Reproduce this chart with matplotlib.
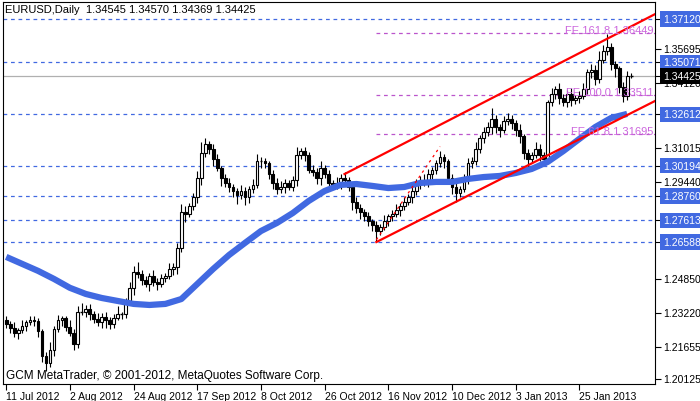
import matplotlib
matplotlib.use("Agg")
import matplotlib.pyplot as plt
import matplotlib.transforms as mtransforms

plt.rcParams['font.family'] = ['Liberation Sans', 'DejaVu Sans']

closes = [1.2270,1.2255,1.2230,1.2245,1.2262,1.2280,1.2290,1.2285,1.2240,1.2120,
          1.2090,1.2150,1.2250,1.2290,1.2300,1.2260,1.2230,1.2180,1.2330,1.2330,
          1.2345,1.2320,1.2295,1.2280,1.2305,1.2290,1.2270,1.2300,1.2320,1.2320,
          1.2380,1.2440,1.2520,1.2510,1.2480,1.2460,1.2500,1.2470,1.2460,1.2490,
          1.2500,1.2530,1.2540,1.2630,1.2800,1.2790,1.2830,1.2870,1.2960,1.3080,
          1.3120,1.3100,1.3050,1.3010,1.2960,1.2940,1.2920,1.2900,1.2880,1.2900,
          1.2870,1.2910,1.2930,1.3040,1.3040,1.3030,1.2980,1.2940,1.2910,1.2920,
          1.2940,1.2920,1.2950,1.3070,1.3090,1.3070,1.3000,1.2990,1.2960,1.3010,
          1.2980,1.2940,1.2930,1.2940,1.2960,1.2950,1.2920,1.2850,1.2820,1.2800,
          1.2780,1.2760,1.2740,1.2710,1.2730,1.2760,1.2780,1.2790,1.2810,1.2830,
          1.2850,1.2870,1.2900,1.2940,1.2950,1.2940,1.2980,1.3000,1.3030,1.3060,
          1.3040,1.2960,1.2920,1.2890,1.2910,1.2960,1.3030,1.3040,1.3100,1.3150,
          1.3180,1.3200,1.3240,1.3200,1.3190,1.3230,1.3240,1.3220,1.3190,1.3160,
          1.3080,1.3050,1.3070,1.3100,1.3070,1.3050,1.3320,1.3360,1.3380,1.3340,
          1.3320,1.3360,1.3330,1.3340,1.3350,1.3380,1.3460,1.3470,1.3430,1.3520,
          1.3560,1.3580,1.3500,1.3480,1.3390,1.3350,1.3445,1.34425]
first_open = 1.2290
# wick sizes in pips (0.0001)
up_wick = [20,15,25,10,30,12,18,22,15,10, 20,35,15,25,10,12,30,18,25,40,
           15,20,12,30,18,25,15,20,35,10, 15,30,25,45,15,20,12,25,18,20,
           15,30,20,25,40,30,15,20,35,50, 30,15,20,25,10,18,22,15,12,30,
           20,15,25,35,20,15,12,18,20,25, 15,10,20,40,15,20,12,25,18,30,
           15,20,10,25,20,30,15,12,20,18, 15,22,10,20,15,25,12,20,30,15,
           20,18,25,15,20,30,25,12,18,30, 15,10,20,25,15,18,25,20,30,15,
           20,25,50,20,15,25,30,20,15,25, 10,20,15,30,20,15,10,25,15,30,
           20,15,25,12,20,30,15,30,25,40, 30,60,20,15,10,25,20,10]
dn_wick = [15,25,20,30,15,25,12,20,30,25, 40,20,30,15,25,20,15,30,20,15,
           25,30,20,15,25,35,20,15,10,25, 20,15,30,20,25,15,30,20,25,15,
           20,15,25,30,20,35,15,20,25,30, 20,25,30,15,35,20,25,30,40,20,
           35,25,20,15,30,20,25,30,25,20, 30,15,20,25,20,30,15,20,25,30,
           20,25,15,20,30,25,20,40,25,30, 20,25,30,45,20,15,25,20,15,30,
           20,15,25,20,30,15,20,25,20,15, 30,25,35,40,20,15,25,20,15,20,
           25,20,30,25,35,15,20,25,30,35, 30,40,20,15,30,25,15,20,25,30,
           20,25,30,20,25,15,20,25,30,20, 15,20,30,40,25,30,20,10]

ma_index = list(range(0, 157, 4))
ma_values = [1.2589,1.2556,1.2523,1.2485,1.2443,1.2414,1.2395,1.2381,1.2367,1.2362,
             1.2367,1.2390,1.2461,1.2532,1.2598,1.2655,1.2711,1.2749,1.2796,1.2853,
             1.2900,1.2929,1.2933,1.2924,1.2914,1.2919,1.2938,1.2943,1.2943,1.2957,
             1.2966,1.2971,1.2985,1.3004,1.3037,1.3089,1.3146,1.3202,1.3245,1.3264]

date_ticks = [0,16,32,48,64,80,96,112,128,144]
date_labels = ["11 Jul 2012","2 Aug 2012","24 Aug 2012","17 Sep 2012","8 Oct 2012",
               "26 Oct 2012","16 Nov 2012","10 Dec 2012","3 Jan 2013","25 Jan 2013"]

blue_levels = [1.37120,1.35071,1.32612,1.30194,1.28760,1.27613,1.26588]
plain_ticks = [1.35695,1.34120,1.31015,1.29440,1.24850,1.23220,1.21655,1.20125]
fe_levels = [1.36449,1.33511,1.31695]
fe_labels = ["FE 161.8 1.36449","FE 100.0 1.33511","FE 61.8 1.31695"]
current_price = 1.34425
upper_channel = ([85,163],[1.2980,1.3735])
lower_channel = ([93,163],[1.2659,1.3325])
fe_ray = ([93,109],[1.2670,1.3110])
title = "EURUSD,Daily  1.34545 1.34570 1.34369 1.34425"
footer = "GCM MetaTrader, © 2001-2012, MetaQuotes Software Corp."

fig = plt.figure(figsize=(7.0,4.02), dpi=100)
ax = fig.add_axes([3/700, 17/402, 652/700, 382/402])
XMAX = 163
ax.set_xlim(-0.8, XMAX)
ax.set_ylim(1.19889, 1.37923)

blue = "#4169E1"
for lv in blue_levels:
    ax.axhline(lv, color=blue, lw=0.9, ls=(0,(3,3)), zorder=1)
for lv in fe_levels:
    ax.plot([93, XMAX], [lv, lv], color="#BB55CC", lw=0.9, ls=(0,(3,3)), zorder=1)
ax.axhline(current_price, color="#B0B0B0", lw=0.9, zorder=1)

opens = [first_open] + closes[:-1]
for i, (o, c) in enumerate(zip(opens, closes)):
    hi = max(o, c) + up_wick[i]*1e-4
    lo = min(o, c) - dn_wick[i]*1e-4
    ax.vlines(i, lo, hi, color="black", lw=0.8, zorder=3)
    h = abs(c-o)
    if h < 0.0003:
        ax.hlines((o+c)/2, i-0.35, i+0.35, color="black", lw=1.0, zorder=4)
    else:
        ax.bar(i, h, bottom=min(o,c), width=0.7, color="white" if c >= o else "black",
               edgecolor="black", lw=0.8, zorder=4)

ax.plot(ma_index, ma_values, color=blue, lw=4.5, solid_capstyle="butt", zorder=5)
ax.plot(*upper_channel, color="red", lw=1.6, zorder=6)
ax.plot(*lower_channel, color="red", lw=1.6, zorder=6)
ax.plot(*fe_ray, color="red", lw=0.9, ls=(0,(2,3)), zorder=6)

for lv, lab in zip(fe_levels, fe_labels):
    ax.text(XMAX-0.3, lv+0.0015, lab, color="#CC66DD", fontsize=8, ha="right", va="center", zorder=7)

trans = mtransforms.blended_transform_factory(ax.transAxes, ax.transData)
ax.set_yticks(plain_ticks + blue_levels + [current_price])
ax.set_yticklabels([])
ax.yaxis.tick_right()
ax.tick_params(axis="y", length=4, width=0.8, color="black")
for lv in plain_ticks:
    ax.text(1.012, lv, f"{lv:.5f}", transform=trans, fontsize=7.5, va="center", ha="left", clip_on=False)
for lv in blue_levels:
    ax.text(1.012, lv, f"{lv:.5f}", transform=trans, fontsize=7.5, va="center", ha="left", color="white",
            clip_on=False, bbox=dict(boxstyle="square,pad=0.25", fc=blue, ec="none"))
ax.text(1.012, current_price, f"{current_price:.5f}", transform=trans, fontsize=7.5, va="center", ha="left",
        color="white", clip_on=False, bbox=dict(boxstyle="square,pad=0.25", fc="black", ec="none"))

ax.set_xticks(date_ticks)
ax.set_xticklabels(date_labels, fontsize=7.5, ha="left")
ax.tick_params(axis="x", length=4, width=0.8, pad=1)

ax.text(0.003, 0.995, title, transform=ax.transAxes, fontsize=8, va="top", ha="left")
ax.text(0.005, 0.008, footer, transform=ax.transAxes, fontsize=8.5, va="bottom", ha="left")
for s in ax.spines.values():
    s.set_linewidth(0.8)

fig.savefig("out.png", dpi=100)
